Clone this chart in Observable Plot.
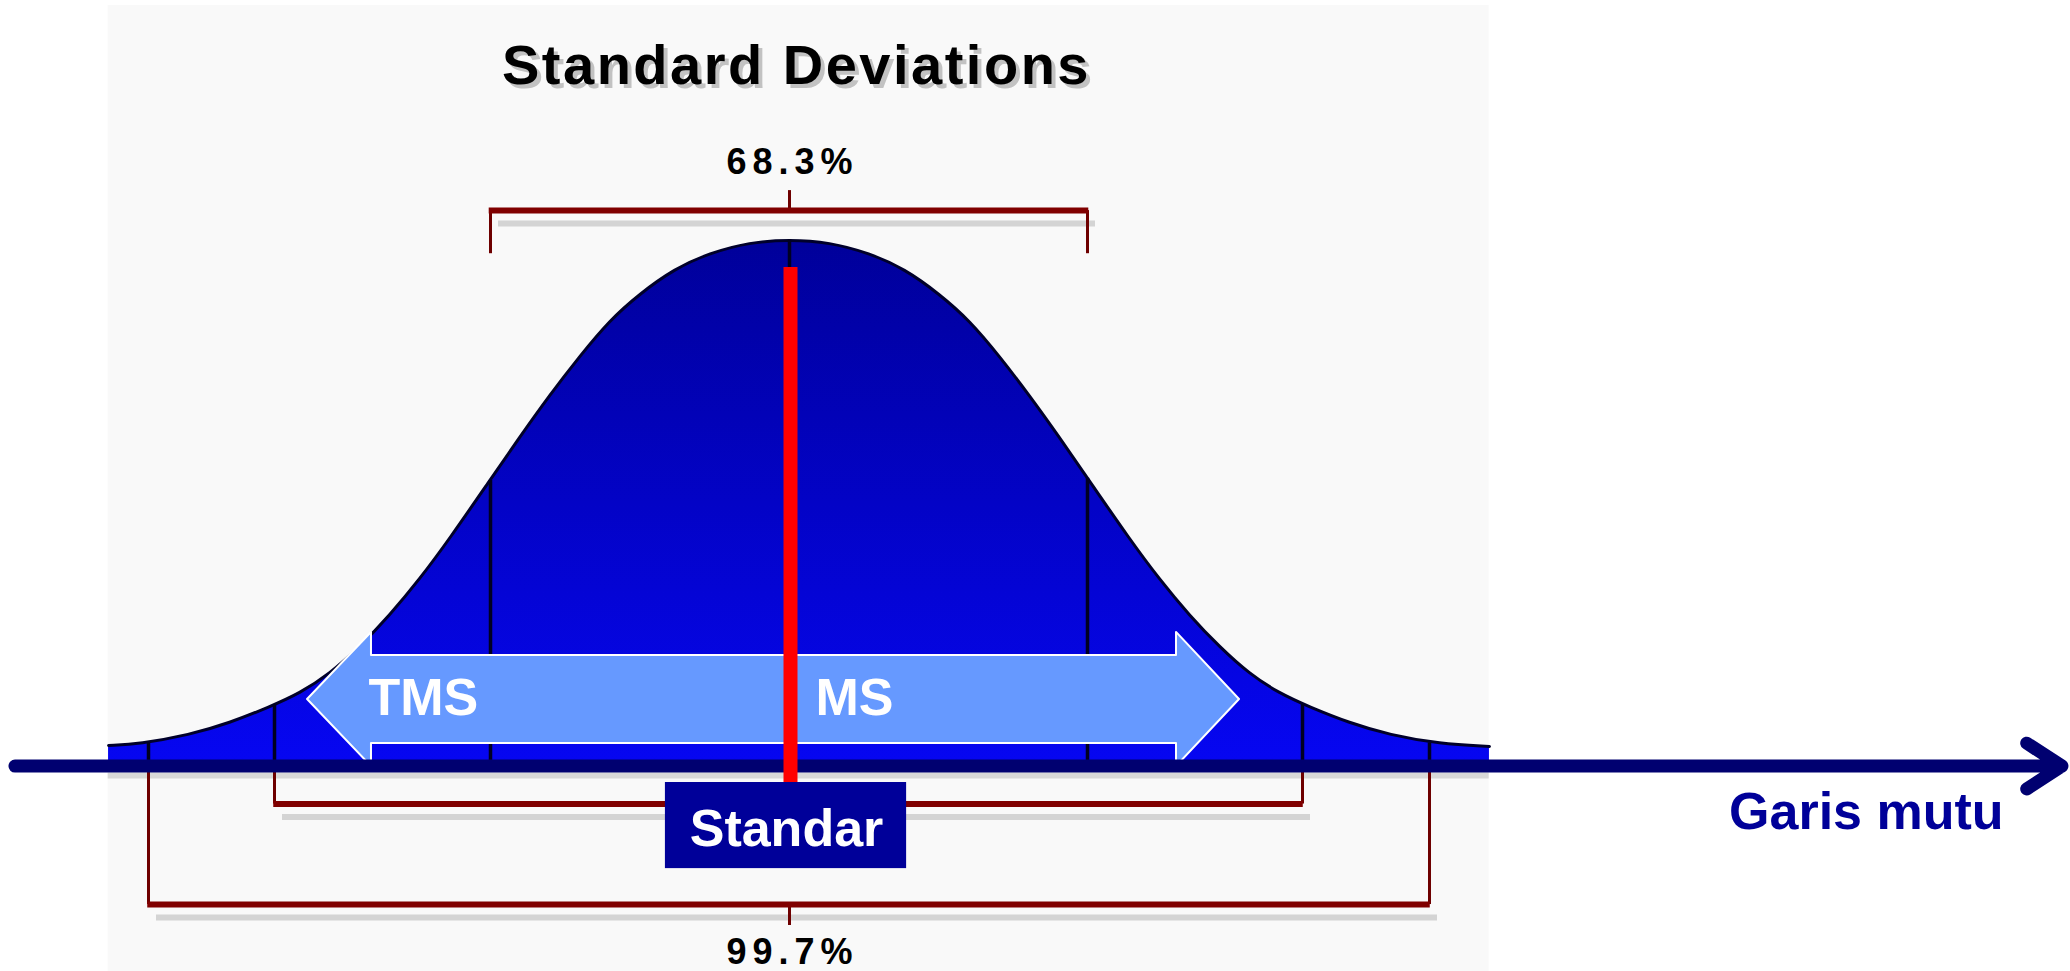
<!DOCTYPE html>
<html>
<head>
<meta charset="utf-8">
<script src="https://cdn.jsdelivr.net/npm/d3@7"></script>
<script src="https://cdn.jsdelivr.net/npm/@observablehq/plot@0.6"></script>
<style>
  html, body { margin: 0; padding: 0; background: #ffffff; }
  #chart svg { display: block; }
</style>
</head>
<body>
<div id="chart"></div>
<script>
// ---------------- data ----------------
// x in "standard deviations" (sigma), y in % of the peak height
const sigmaTicks = [-3, -2, -1, 0, 1, 2, 3];
const curveSigma = [
  -3.317, -3.071, -2.675, -2.357, -2.04, -1.884, -1.745, -1.606, -1.468, -1.329, -1.19,
  -1.005, -0.903, -0.803, -0.702, -0.602, -0.502, -0.385, -0.268, -0.134, 0,
  0.134, 0.268, 0.386, 0.503, 0.604, 0.705, 0.805, 0.906, 1.009, 1.195, 1.335,
  1.474, 1.614, 1.753, 1.893, 2.055, 2.37, 2.685, 3.079, 3.472
];
const curveHeight = [
  3.8, 4.11, 5.82, 8.10, 11.14, 13.71, 17.41, 22.55, 28.54, 35.38, 43.08,
  54.11, 62.38, 70.36, 77.78, 84.62, 89.64, 94.43, 97.41, 99.47, 100,
  99.47, 97.41, 94.43, 89.64, 84.62, 77.78, 70.36, 62.38, 54.11, 43.08, 35.38,
  28.54, 22.55, 17.41, 13.71, 11.14, 8.10, 5.82, 4.11, 3.63
];
const sigmaLineHeight = [4.3, 11.6, 54.2, 100, 54.6, 11.6, 4.3];
const bracketLabels = ["68.3%", "95.4%", "99.7%"];
const bracketHalfWidth = [1, 2, 3];
const directionLabels = ["TMS", "MS"];
const titleText = "Standard Deviations";
const standardLabel = "Standar";
const axisTitle = "Garis mutu";

// ---------------- layout (annotation placement, in data units) ----------------
const sigmaPixels = [148, 274, 490, 789, 1087, 1302, 1429];
const L = {
  panel: {x1: -3.32, x2: 3.47, y1: 144.5, y2: -39.2},
  baseShadowY: -1.9,
  titleY: 129.66,
  bracketBar: [105.5, -7.32, -26.43],
  bracketLegEnd: [97.3, -1.33, -1.33],
  bracketTickEnd: [109.3, null, -30.42],
  bracketTextY: [112.55, null, -37.64],
  arrow: {tipL: -1.847, backL: -1.551, backR: 1.414, tipR: 1.707,
          mid: 12.55, headTop: 25.3, headBot: -0.19, bodyTop: 20.9, bodyBot: 4.18},
  dirTextX: [-1.565, 0.087],
  dirTextY: 9.51,
  redLine: {y1: 94.7, y2: -3.23},
  axis: {x1: -4.06, x2: 7.98, y: -0.1},
  box: {x1: -0.415, x2: 0.393, y1: -3.23, y2: -19.6},
  boxTextY: -15.21,
  axisTitle: {x: 7.52, y: -11.98}
};

const FONT = "Liberation Sans, Arial, Helvetica, sans-serif";
const curve = curveSigma.map((s, i) => ({s, h: curveHeight[i]}));
const sigmaLines = sigmaTicks.map((s, i) => ({s, h: sigmaLineHeight[i]}));
const brackets = bracketLabels.map((label, i) => ({
  label, w: bracketHalfWidth[i], bar: L.bracketBar[i], leg: L.bracketLegEnd[i],
  tick: L.bracketTickEnd[i], ty: L.bracketTextY[i]
}));
const legs = brackets.flatMap(b => [{x: -b.w, y1: b.leg, y2: b.bar}, {x: b.w, y1: b.leg, y2: b.bar}]);
const ticked = brackets.filter(b => b.tick !== null);
const A = L.arrow;
const arrowShape = [
  {x: A.tipL, lo: A.mid, hi: A.mid},
  {x: A.backL, lo: A.headBot, hi: A.headTop},
  {x: A.backL, lo: A.bodyBot, hi: A.bodyTop},
  {x: A.backR, lo: A.bodyBot, hi: A.bodyTop},
  {x: A.backR, lo: A.headBot, hi: A.headTop},
  {x: A.tipR, lo: A.mid, hi: A.mid}
];
const dirLabels = directionLabels.map((t, i) => ({t, x: L.dirTextX[i]}));

const svg = Plot.plot({
  width: 2070,
  height: 971,
  marginTop: 0, marginRight: 0, marginBottom: 0, marginLeft: 0,
  style: {background: "#ffffff", fontFamily: FONT, overflow: "visible"},
  x: {type: "linear", domain: sigmaTicks, range: sigmaPixels, axis: null},
  y: {type: "linear", domain: [-39.16, 145.44], range: [971, 0], axis: null},
  marks: [
    // background panel of the original picture
    Plot.rect([L.panel], {x1: "x1", x2: "x2", y1: "y1", y2: "y2", fill: "#f9f9f9"}),
    Plot.ruleY([L.baseShadowY], {x1: L.panel.x1, x2: L.panel.x2, stroke: "#d8d8d8", strokeWidth: 6}),
    // title with shadow
    Plot.text([titleText], {x: 0, y: L.titleY, text: d => d, dx: 11, dy: 4, fill: "#c2c2c2",
      fontSize: 56, fontWeight: "bold", textAnchor: "middle", lineAnchor: "bottom", fontFamily: FONT}),
    Plot.text([titleText], {x: 0, y: L.titleY, text: d => d, dx: 7, fill: "#000000",
      fontSize: 56, fontWeight: "bold", textAnchor: "middle", lineAnchor: "bottom", fontFamily: FONT}),
    // bracket shadows
    Plot.ruleY(brackets, {y: "bar", x1: d => -d.w, x2: d => d.w, dx: 8, dy: 13, stroke: "#d4d4d4", strokeWidth: 6}),
    // bell curve
    Plot.areaY(curve, {x: "s", y: "h", fill: "url(#bellGrad)", curve: "basis"}),
    Plot.line(curve, {x: "s", y: "h", stroke: "#00002a", strokeWidth: 3, curve: "basis"}),
    Plot.ruleX(sigmaLines, {x: "s", y1: 0, y2: "h", stroke: "#000022", strokeWidth: 3.5}),
    // double arrow TMS / MS
    Plot.area(arrowShape, {x1: "x", y1: "lo", y2: "hi", fill: "#6699ff", stroke: "#ffffff", strokeWidth: 2, curve: "linear"}),
    Plot.text(dirLabels, {x: "x", y: L.dirTextY, text: "t", fill: "#ffffff", fontSize: 52,
      fontWeight: "bold", textAnchor: "start", lineAnchor: "bottom", fontFamily: FONT}),
    // brackets
    Plot.ruleX(legs, {x: "x", y1: "y1", y2: "y2", stroke: "#6e0000", strokeWidth: 3}),
    Plot.ruleX(ticked, {x: 0, y1: "bar", y2: "tick", stroke: "#6e0000", strokeWidth: 3}),
    Plot.ruleY(brackets, {y: "bar", x1: d => -d.w - 0.006, x2: d => d.w + 0.006, stroke: "#800000", strokeWidth: 6}),
    Plot.text(ticked, {x: 0, y: "ty", text: "label", dx: 3, fill: "#000000", fontSize: 36,
      fontWeight: "bold", textAnchor: "middle", lineAnchor: "bottom", fontFamily: FONT}),
    // quality axis with arrow head
    Plot.arrow([0], {x1: L.axis.x1, x2: L.axis.x2, y1: L.axis.y, y2: L.axis.y, stroke: "#000070",
      strokeWidth: 13, headLength: 4.85, headAngle: 66, strokeLinecap: "round", strokeLinejoin: "round"}),
    // standard (red) line
    Plot.ruleX([0], {x: d => d, y1: L.redLine.y1, y2: L.redLine.y2, stroke: "#ff0000", strokeWidth: 14, dx: 1}),
    // Standar box
    Plot.rect([L.box], {x1: "x1", x2: "x2", y1: "y1", y2: "y2", fill: "#000099"}),
    Plot.text([standardLabel], {x: 0, y: L.boxTextY, text: d => d, dx: -3, fill: "#ffffff", fontSize: 52,
      fontWeight: "bold", textAnchor: "middle", lineAnchor: "bottom", fontFamily: FONT}),
    // axis title
    Plot.text([axisTitle], {x: L.axisTitle.x, y: L.axisTitle.y, text: d => d, fill: "#000099", fontSize: 52,
      fontWeight: "bold", textAnchor: "end", lineAnchor: "bottom", fontFamily: FONT})
  ]
});

// gradient for the bell fill
const defs = d3.select(svg).insert("defs", ":first-child");
const grad = defs.append("linearGradient").attr("id", "bellGrad")
  .attr("x1", 0).attr("y1", 0).attr("x2", 0).attr("y2", 1);
grad.append("stop").attr("offset", "0%").attr("stop-color", "#00009a");
grad.append("stop").attr("offset", "100%").attr("stop-color", "#0606f2");

// letter spacing to match the stretched bitmap lettering
d3.select(svg).selectAll("text").each(function () {
  const t = this.textContent;
  if (t === titleText) this.style.letterSpacing = "2.5px";
  if (bracketLabels.includes(t)) this.style.letterSpacing = "6px";
});

document.getElementById("chart").appendChild(svg);
</script>
</body>
</html>
